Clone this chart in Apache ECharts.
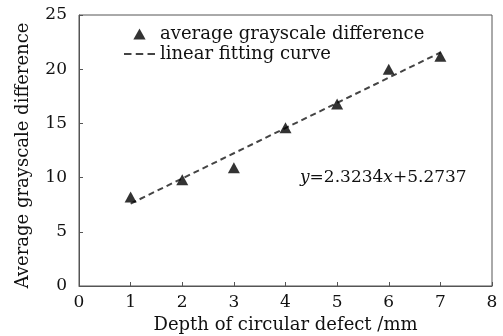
<!DOCTYPE html>
<html><head><meta charset="utf-8">
<script src="https://cdn.jsdelivr.net/npm/echarts@6/dist/echarts.min.js"></script>
<style>html,body{margin:0;padding:0;background:#fff}#c{width:503px;height:336px}</style>
</head><body><div id="c"></div>
<script>
var depths = [1, 2, 3, 4, 5, 6, 7];
var grayDiff = [8.2, 9.8, 10.9, 14.6, 16.8, 20.0, 21.2];
var fitX = [1, 7];
var fitY = [7.60, 21.54];
var xTicks = [0, 1, 2, 3, 4, 5, 6, 7, 8];
var yTicks = [0, 5, 10, 15, 20, 25];
var FONT = 'DejaVu Serif';
var chart = echarts.init(document.getElementById('c'));
chart.setOption({
  animation: false,
  backgroundColor: '#fff',
  grid: {left: 79, right: 11, top: 15, bottom: 50, show: true, borderColor: '#555', borderWidth: 1,
         containLabel: false, outerBoundsMode: 'none'},
  legend: {
    left: 119, top: 20, orient: 'vertical', itemGap: 2, itemWidth: 31, itemHeight: 11,
    symbolKeepAspect: true,
    textStyle: {fontFamily: FONT, fontSize: 18, color: '#111'},
    data: [{name: 'average grayscale difference', icon: 'path://M5,0L10,9L0,9Z', itemStyle: {color: '#000'}},
           {name: 'linear fitting curve', icon: 'path://M0,0h7v2h-7z M11,0h7v2h-7z M22,0h7v2h-7z', itemStyle: {color: '#444'}}]
  },
  xAxis: {
    type: 'value', min: 0, max: 8, interval: 1,
    name: 'Depth of circular defect /mm', nameLocation: 'middle', nameGap: 28,
    nameTextStyle: {fontFamily: FONT, fontSize: 18, color: '#111'},
    axisLine: {show: true, lineStyle: {color: '#555'}},
    axisTick: {show: true, inside: true, length: 4, lineStyle: {color: '#555'}},
    axisLabel: {fontFamily: FONT, fontSize: 17, color: '#111', margin: 8, formatter: function(v){return xTicks.indexOf(v)>=0? String(v):'';}},
    splitLine: {show: false}
  },
  yAxis: {
    type: 'value', min: 0, max: 25, interval: 5,
    name: 'Average grayscale difference', nameLocation: 'middle', nameGap: 47,
    nameTextStyle: {fontFamily: FONT, fontSize: 18, color: '#111', padding: [0, 10, 0, 0]},
    axisLine: {show: true, lineStyle: {color: '#555'}},
    axisTick: {show: true, inside: true, length: 4, lineStyle: {color: '#555'}},
    axisLabel: {fontFamily: FONT, fontSize: 17, color: '#111', margin: 12, formatter: function(v){return yTicks.indexOf(v)>=0? String(v):'';}},
    splitLine: {show: false}
  },
  series: [
    {name: 'average grayscale difference', type: 'scatter', symbol: 'triangle', symbolSize: [12, 11],
     itemStyle: {color: '#000'}, z: 3,
     data: depths.map(function(d, i){return [d, grayDiff[i]];})},
    {name: 'linear fitting curve', type: 'line', symbol: 'none', showSymbol: false,
     lineStyle: {color: '#444', width: 2, type: [6, 4]}, itemStyle: {color: '#444'},
     data: fitX.map(function(d, i){return [d, fitY[i]];})}
  ],
  graphic: [{
    type: 'text', left: 300, top: 169,
    style: {
      rich: {
        i: {fontFamily: FONT, fontStyle: 'italic', fontSize: 17, fill: '#111'},
        n: {fontFamily: FONT, fontSize: 17, fill: '#111'}
      },
      text: '{i|y}{n|=2.3234}{i|x}{n|+5.2737}'
    }
  }]
});
</script></body></html>
